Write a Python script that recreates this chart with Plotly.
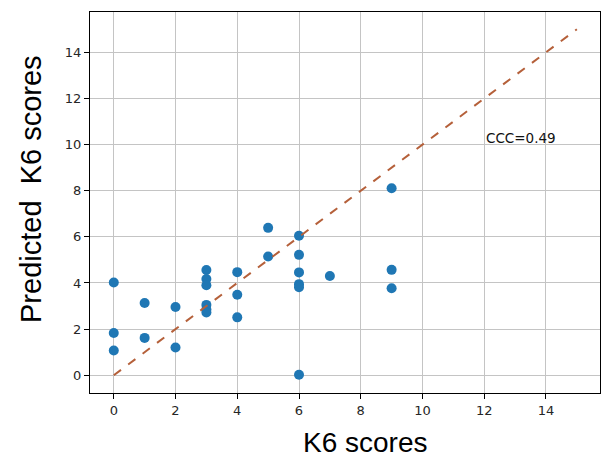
import plotly.graph_objects as go

# Data
k6_actual = [0, 0, 0, 1, 1, 2, 2, 3, 3, 3, 3, 3, 3, 4, 4, 4, 5, 5, 6, 6, 6, 6, 6, 6, 7, 9, 9, 9]
k6_predicted = [4.02, 1.83, 1.07, 3.13, 1.62, 2.96, 1.20, 4.56, 4.17, 3.90, 3.05, 2.85, 2.72,
                4.47, 3.49, 2.51, 6.39, 5.15, 6.05, 5.22, 4.46, 3.95, 3.82, 0.02, 4.30,
                8.11, 4.57, 3.77]
identity_x = [0, 15]
identity_y = [0, 15]
tick_vals = [0, 2, 4, 6, 8, 10, 12, 14]
ccc_text = "CCC=0.49"
x_title = "K6 scores"
y_title = "Predicted  K6 scores"

fig = go.Figure()
fig.add_trace(go.Scatter(
    x=k6_actual, y=k6_predicted, mode="markers",
    marker=dict(color="#1f77b4", size=10, line=dict(width=0)),
    showlegend=False,
))
fig.add_trace(go.Scatter(
    x=identity_x, y=identity_y, mode="lines",
    line=dict(color="#b5603a", width=2, dash="dash"),
    showlegend=False,
))

axis_common = dict(
    tickvals=tick_vals,
    showgrid=True, gridcolor="#c4c4c4", gridwidth=1,
    zeroline=False,
    showline=True, linecolor="#000000", linewidth=1.2, mirror=True,
    ticks="outside", ticklen=5, tickcolor="#000000", tickwidth=1,
    tickfont=dict(family="DejaVu Sans", size=13, color="#262626"),
    automargin=False,
)
fig.update_xaxes(range=[-0.77, 15.75], **axis_common)
fig.update_yaxes(range=[-0.77, 15.75], **axis_common)

# plot area on screen: x 90..600, y 12..393
def px_to_paper_x(px):
    return (px - 90) / 510

def px_to_paper_y(py):
    return (393 - py) / 381

fig.add_annotation(
    x=12, y=10, xref="x", yref="y", text=ccc_text, showarrow=False,
    xanchor="left", yanchor="bottom", yshift=-3,
    font=dict(family="DejaVu Sans", size=13.5, color="#111111"),
)
fig.add_annotation(
    x=px_to_paper_x(365.5), y=px_to_paper_y(442), xref="paper", yref="paper", text=x_title,
    showarrow=False, xanchor="center", yanchor="middle",
    font=dict(family="Liberation Sans", size=28, color="#000000"),
)
fig.add_annotation(
    x=px_to_paper_x(31), y=px_to_paper_y(189), xref="paper", yref="paper", text=y_title,
    showarrow=False, xanchor="center", yanchor="middle", textangle=-90,
    font=dict(family="Liberation Sans", size=29, color="#000000"),
)

fig.update_layout(
    width=607, height=451,
    margin=dict(l=82, r=15, t=4, b=66),
    paper_bgcolor="#ffffff", plot_bgcolor="#ffffff",
)

fig.write_html("out.html")
